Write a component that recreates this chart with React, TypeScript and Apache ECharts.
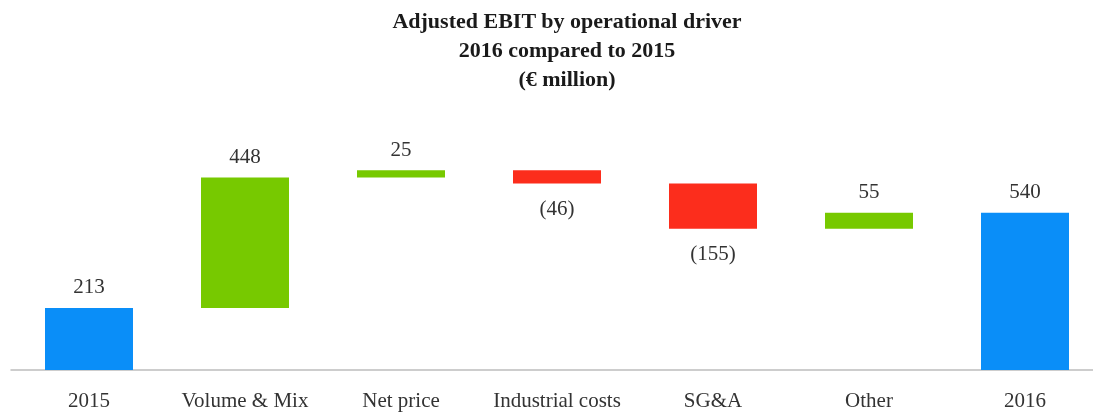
import React, { useEffect, useRef } from "react";
import * as echarts from "echarts";

const categories = ["2015", "Volume & Mix", "Net price", "Industrial costs", "SG&A", "Other", "2016"];
// first and last are totals, the rest are changes
const changes = [213, 448, 25, -46, -155, 55, 540];
const isTotal = [true, false, false, false, false, false, true];
const titleLines = ["Adjusted EBIT by operational driver", "2016 compared to 2015", "(€ million)"];

const BLUE = "#0A8EF8";
const GREEN = "#77C900";
const RED = "#FC2D1C";

export default function App() {
  const ref = useRef<HTMLDivElement>(null);
  useEffect(() => {
    if (!ref.current) return;
    const chart = echarts.init(ref.current, undefined, { renderer: "svg" });
    const base: number[] = [];
    const vis: any[] = [];
    let run = 0;
    changes.forEach((c, i) => {
      if (isTotal[i]) {
        base.push(0);
        vis.push({ value: c, itemStyle: { color: BLUE }, label: { position: "top", formatter: String(c) } });
        run = c;
      } else {
        const start = run;
        const end = run + c;
        base.push(Math.min(start, end));
        vis.push({
          value: Math.abs(c),
          itemStyle: { color: c >= 0 ? GREEN : RED },
          label: c >= 0
            ? { position: "top", formatter: String(c), distance: 11 }
            : { position: "bottom", formatter: "(" + Math.abs(c) + ")", distance: 14 },
        });
        run = end;
      }
    });
    const font = "'Liberation Serif', 'Times New Roman', serif";
    chart.setOption({
      animation: false,
      title: {
        text: titleLines.join("\n"),
        left: 562,
        textAlign: "center",
        top: 1,
        textStyle: { fontFamily: font, fontWeight: "bold", fontSize: 22, lineHeight: 29, color: "#1a1a1a" },
      },
      grid: { left: 11, width: 1092, top: 137, height: 233, outerBoundsMode: "none", containLabel: false },
      xAxis: {
        type: "category",
        data: categories,
        axisLine: { lineStyle: { color: "#bdbdbd", width: 1.5 } },
        axisTick: { show: false },
        axisLabel: { fontFamily: font, fontSize: 21, color: "#333", margin: 19, interval: 0 },
      },
      yAxis: { type: "value", min: 0, max: 800, show: false, splitLine: { show: false } },
      series: [
        {
          type: "bar",
          stack: "w",
          data: base,
          itemStyle: { color: "transparent" },
          barWidth: 88,
          silent: true,
        },
        {
          type: "bar",
          stack: "w",
          data: vis,
          barWidth: 88,
          label: { show: true, fontFamily: font, fontSize: 21, color: "#333", distance: 11 },
        },
      ],
    });
    return () => chart.dispose();
  }, []);
  return <div ref={ref} style={{ position: "fixed", left: 0, top: 0, width: 1093, height: 414 }} />;
}
